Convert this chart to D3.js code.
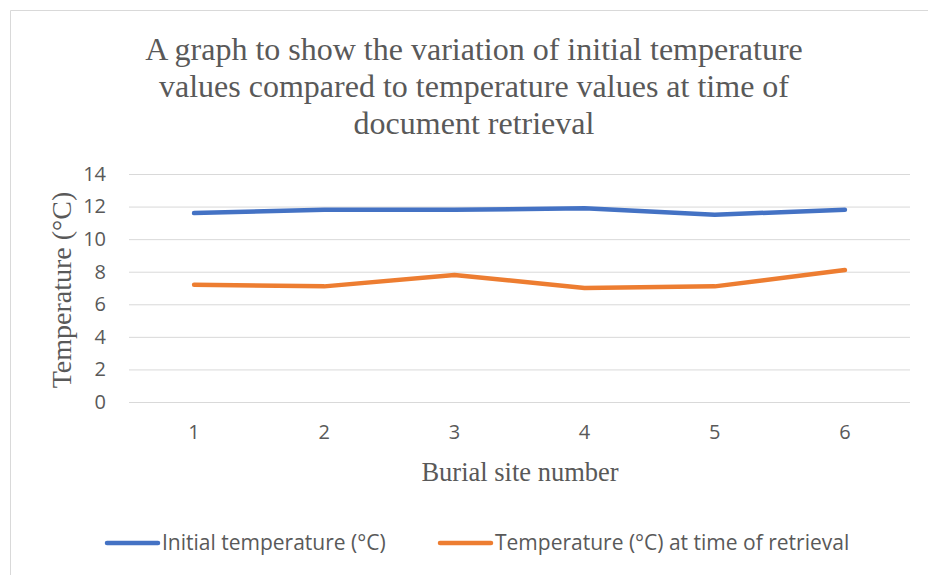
<!DOCTYPE html>
<html>
<head>
<meta charset="utf-8">
<script src="https://cdn.jsdelivr.net/npm/d3@7"></script>
<style>
  body { margin: 0; background: #fff; }
  text { fill: #595959; }
</style>
</head>
<body>
<div id="chart"></div>
<script>
// Data
var sites = ['1', '2', '3', '4', '5', '6'];
var initialTemp = [11.6, 11.8, 11.8, 11.9, 11.5, 11.8];
var retrievalTemp = [7.2, 7.1, 7.8, 7.0, 7.1, 8.1];
var yTicks = [0, 2, 4, 6, 8, 10, 12, 14];
var seriesNames = ['Initial temperature (°C)', 'Temperature (°C) at time of retrieval'];
var seriesColors = ['#4472C4', '#ED7D31'];

var svgWidth = 928;
var svgHeight = 575;

var margin = { top: 174, right: 18, bottom: 173, left: 129 };
var chartWidth = svgWidth - margin.left - margin.right;
var chartHeight = svgHeight - margin.top - margin.bottom;

var sansFont = 'Open Sans, sans-serif';
var serifFont = 'Liberation Serif, Times New Roman, serif';

var svg = d3.select('#chart')
  .append('svg')
  .attr('width', svgWidth)
  .attr('height', svgHeight);

// outer chart border (only top and left edges show in the crop)
svg.append('path')
  .attr('d', 'M10.5,575 V10.5 H928')
  .attr('fill', 'none')
  .attr('stroke', '#d9d9d9')
  .attr('stroke-width', 1);

var chartGroup = svg.append('g')
  .attr('transform', `translate(${margin.left}, ${margin.top})`);

var xScale = d3.scaleBand()
  .domain(sites)
  .range([0, chartWidth]);

var yScale = d3.scaleLinear()
  .domain([0, 14])
  .range([chartHeight, 0]);

// gridlines + y labels
var yAxis = d3.axisLeft(yScale)
  .tickValues(yTicks)
  .tickSize(-chartWidth)
  .tickPadding(23);

var yG = chartGroup.append('g').call(yAxis);
yG.select('.domain').remove();
yG.selectAll('.tick line').attr('stroke', '#d9d9d9');
yG.selectAll('.tick text')
  .style('font-family', sansFont)
  .style('font-size', '20px')
  .attr('fill', '#595959');

// x labels
var xAxis = d3.axisBottom(xScale).tickSize(0).tickPadding(23);
var xG = chartGroup.append('g')
  .attr('transform', `translate(0, ${chartHeight})`)
  .call(xAxis);
xG.select('.domain').remove();
xG.selectAll('.tick text')
  .style('font-family', sansFont)
  .style('font-size', '20px')
  .attr('fill', '#595959');

// lines
var line = d3.line()
  .x(function(d, i) { return xScale(sites[i]) + xScale.bandwidth() / 2; })
  .y(function(d) { return yScale(d); });

[initialTemp, retrievalTemp].forEach(function(values, i) {
  chartGroup.append('path')
    .datum(values)
    .attr('d', line)
    .attr('fill', 'none')
    .attr('stroke', seriesColors[i])
    .attr('stroke-width', 4.5)
    .attr('stroke-linecap', 'round')
    .attr('stroke-linejoin', 'round');
});

// title
var titleLines = [
  'A graph to show the variation of initial temperature',
  'values compared to temperature values at time of',
  'document retrieval'
];
svg.append('text')
  .attr('x', 474)
  .attr('y', 60)
  .attr('text-anchor', 'middle')
  .style('font-family', serifFont)
  .style('font-size', '32px')
  .selectAll('tspan')
  .data(titleLines)
  .enter()
  .append('tspan')
  .attr('x', 474)
  .attr('dy', function(d, i) { return i === 0 ? 0 : 37; })
  .text(function(d) { return d; });

// axis titles
svg.append('text')
  .attr('transform', 'translate(71, 290) rotate(-90)')
  .attr('text-anchor', 'middle')
  .style('font-family', serifFont)
  .style('font-size', '28px')
  .text('Temperature (°C)');

svg.append('text')
  .attr('x', 520)
  .attr('y', 481)
  .attr('text-anchor', 'middle')
  .style('font-family', serifFont)
  .style('font-size', '26.5px')
  .text('Burial site number');

// legend
var legendX = [105, 438];
var legend = svg.append('g');
seriesNames.forEach(function(name, i) {
  legend.append('line')
    .attr('x1', legendX[i] + 2)
    .attr('x2', legendX[i] + 53)
    .attr('y1', 543)
    .attr('y2', 543)
    .attr('stroke', seriesColors[i])
    .attr('stroke-width', 4.5)
    .attr('stroke-linecap', 'round');
  legend.append('text')
    .attr('x', legendX[i] + 57)
    .attr('y', 550)
    .style('font-family', sansFont)
    .style('font-size', '21px')
    .text(name);
});
</script>
</body>
</html>
